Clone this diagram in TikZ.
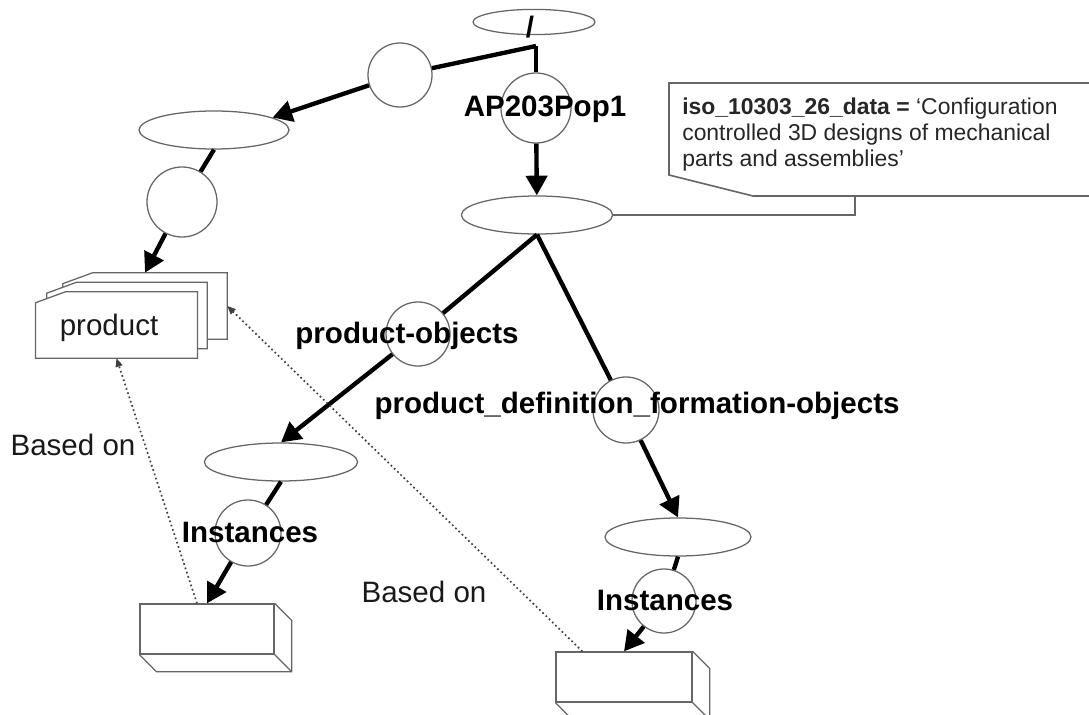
\documentclass[tikz,border=0pt]{standalone}
\usepackage{fontspec}
\setmainfont{Liberation Sans}
\usetikzlibrary{positioning, arrows.meta, shapes.geometric, calc}

\begin{document}
\begin{tikzpicture}[
			x=0.025cm, y=-0.025cm,
			>={Triangle[length=14pt, width=15pt]},
			oval/.style={ellipse, draw=black!60, line width=0.9pt, fill=white,
				minimum width=3.8cm, minimum height=0.95cm, inner sep=0pt},
			ring/.style={circle, draw=black!60, line width=0.9pt, fill=white,
				minimum size=1.65cm, inner sep=0pt},
			slot/.style={rectangle, draw=black!60, line width=0.9pt, fill=white,
				minimum width=3.35cm, minimum height=1.25cm, inner sep=0pt},
			cardbox/.style={rectangle, minimum width=4.1cm, minimum height=1.65cm, inner sep=0pt},
			link/.style={line width=3.1pt, black},
			basedon/.style={line width=1.2pt, black!75, dash pattern=on 1.2pt off 2pt,
				-{Triangle[length=6pt, width=5pt]}},
			tag/.style={font=\fontsize{21}{25}\selectfont\bfseries, inner sep=0pt, anchor=base},
			note/.style={font=\fontsize{21}{25}\selectfont, text=black!90, inner sep=0pt, anchor=base},
			calloutline/.style={draw=black!60, line width=1.2pt}
			]
			\useasboundingbox (0,0) rectangle (1089,715);
			
			% 1. ROOT
			\node[oval, minimum width=3.05cm, minimum height=0.63cm] (root) at (534,22) {};
			\node[tag] (slash) at (530,38) {/};
			\coordinate (fork) at (536,46);
			
			% 2. LEFT CHAIN DOWN TO THE PRODUCT CARDS
			\node[ring, minimum size=1.6cm] (upc) at (400,75) {};
			\node[oval, minimum width=3.75cm] (prodset) at (214,130) {};
			\node[ring, minimum size=1.75cm] (prodc) at (182,202) {};
			
			\node[cardbox] (cardback) at (145,306) {};
			\node[cardbox, minimum width=4cm] (cardmid) at (127,315.5) {};
			\node[cardbox, minimum width=4.03cm] (product) at (116.5,325) {};
			\foreach \c in {cardback, cardmid, product}
			\filldraw[fill=white, draw=black!60, line width=0.9pt]
			($(\c.north west)+(0,11)$) -- ($(\c.north west)+(30,0)$) -- (\c.north east)
			-- (\c.south east) -- (\c.south west) -- cycle;
			\node[note] (prodname) at (109,335) {product};
			
			\draw[link] (fork) -- (upc);
			\draw[link, ->] (upc) -- (prodset.12);
			\draw[link] (prodset.south) -- (prodc);
			\draw[link, ->] (prodc) -- (cardback.north);
			
			% 3. POPULATION AND ITS TWO OBJECT SETS
			\node[ring, minimum size=1.75cm] (popc) at (536,108) {};
			\node[tag] (poplabel) at (545,117) {AP203Pop1};
			\node[oval, minimum width=3.78cm] (pop) at (537,215) {};
			
			\node[ring, minimum size=1.6cm] (poc) at (418,334) {};
			\node[tag] (polabel) at (407,343) {product-objects};
			\node[oval, minimum width=3.83cm] (poset) at (281,462) {};
			\node[ring] (inst1c) at (248,533) {};
			\node[tag] (inst1) at (250,542) {Instances};
			\node[slot] (rec1) at (207,629) {};
			
			\node[ring] (pdfc) at (626,410) {};
			\node[tag] (pdflabel) at (637,413) {product\_definition\_formation-objects};
			\node[oval, minimum width=3.65cm] (pdfset) at (678,537) {};
			\node[ring, minimum size=1.6cm] (inst2c) at (664,601) {};
			\node[tag] (inst2) at (665,610) {Instances};
			\node[slot, minimum width=3.4cm] (rec2) at (624,677) {};
			
			\foreach \b in {rec1, rec2}
			\draw[draw=black!60, line width=0.9pt] (\b.north east) -- ++(17,17)
			-- ($(\b.south east)+(17,17)$) -- ($(\b.south west)+(17,17)$) -- (\b.south west)
			(\b.south east) -- ++(17,17);
			
			\draw[link] (fork) -- (popc);
			\draw[link, ->] (popc) -- (pop);
			\draw[link] (pop.south) -- (poc);
			\draw[link] (pop.south) -- (pdfc);
			\draw[link, ->] (poc) -- (poset.north);
			\draw[link] (poset.south) -- (inst1c);
			\draw[link, ->] (inst1c) -- (rec1.north);
			\draw[link, ->] (pdfc) -- (pdfset.north);
			\draw[link] (pdfset.south) -- (inst2c);
			\draw[link, ->] (inst2c) -- (rec2.north);
			
			% 4. BASED ON LINKS
			\draw[basedon] ($(rec1.north)+(-10,0)$) -- (product.south);
			\node[note] (based1) at (73,455) {Based on};
			\draw[basedon] ($(rec2.north west)+(27,0)$) -- (cardback.east);
			\node[note] (based2) at (424,602) {Based on};
			
			% 5. CALLOUT
			\coordinate (calloutfoot) at (855,196);
			\draw[calloutline] (1089,83) -- (669,83) -- (669,175) -- (753,196) -- (1089,196);
			\node[font=\fontsize{16.3}{18.4}\selectfont, align=left, anchor=north west, inner sep=0pt,
			text=black!85] (callout) at (682,98)
			{\textbf{iso\_10303\_26\_data =} ‘Configuration\\controlled 3D designs of mechanical\\parts and assemblies’};
			\draw[calloutline] (pop.east) -| (calloutfoot);
		\end{tikzpicture}
\end{document}
